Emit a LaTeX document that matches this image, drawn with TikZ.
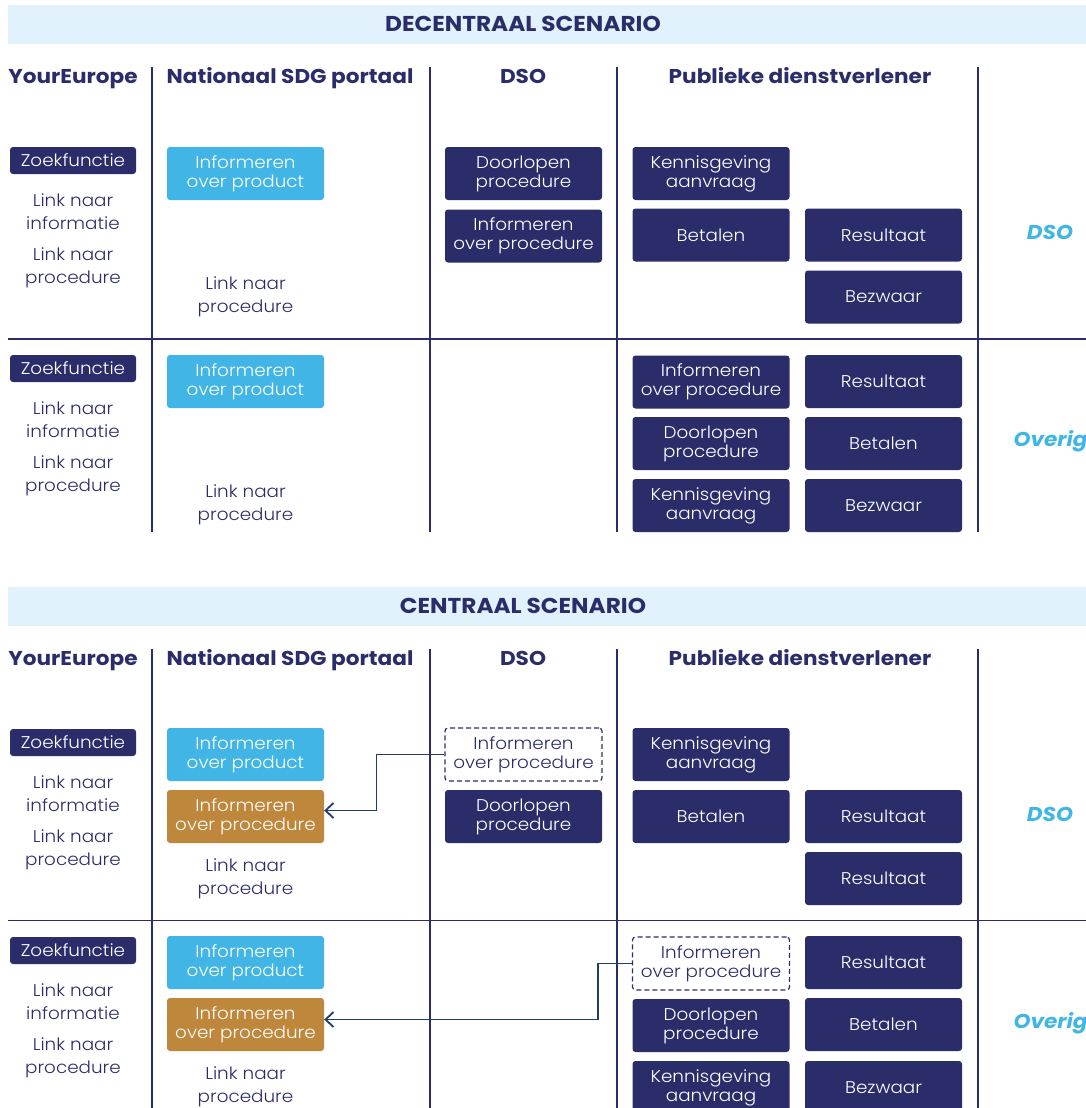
\documentclass[tikz,border=0pt]{standalone}
\usepackage{xcolor}
\usepackage{fontspec}
\setmainfont{Poppins}[FakeStretch=1.08, UprightFont=* Light, BoldFont=* Bold, BoldItalicFont=* Bold Italic]
\usepackage{tikz}
\usetikzlibrary{calc, positioning, arrows.meta}

\definecolor{navy}{HTML}{2B2D6B}
\definecolor{skyblue}{HTML}{41B6E6}
\definecolor{ochre}{HTML}{BF873B}
\definecolor{bandblue}{HTML}{E1F2FC}
\definecolor{arrowblue}{HTML}{1F3D6E}

\begin{document}
\begin{tikzpicture}[x=1pt, y=-1pt, >={Straight Barb[length=8pt, width=15pt]},
		box/.style={rounded corners=3pt, minimum width=157pt, minimum height=53pt, inner sep=0pt, align=center, text=white, font=\fontsize{17}{19}\selectfont},
		dsobox/.style={box, fill=navy},
		sdgbox/.style={box, fill=skyblue},
		movedbox/.style={box, fill=ochre},
		ghostbox/.style={box, fill=white, draw=navy, dash pattern=on 5pt off 3pt, line width=1.2pt, text=navy},
		zoekbox/.style={rounded corners=3pt, fill=navy, text=white, minimum width=126pt, minimum height=27pt, inner sep=0pt, font=\fontsize{17}{19}\selectfont},
		linktext/.style={text=navy, align=center, font=\fontsize{17}{23}\selectfont},
		colhead/.style={text=navy, anchor=base, font=\bfseries\fontsize{20}{24}\selectfont},
		rowlabel/.style={text=skyblue, font=\bfseries\itshape\fontsize{20}{24}\selectfont},
		gridline/.style={navy, line width=1.8pt}]

		\clip (0,0) rectangle (1086,1108);

		% kopjes en rasters van beide scenario's
		\foreach \off/\titel [count=\i] in {0/DECENTRAAL SCENARIO, 581.5/CENTRAAL SCENARIO} {
			\fill[bandblue] (8,5+\off) rectangle (1086,44+\off);
			\node[colhead, font=\bfseries\fontsize{21.5}{24}\selectfont] (T\i) at (523,31.5+\off) {\titel};
			\node[colhead] (hYE\i) at (73,84+\off) {YourEurope};
			\node[colhead] (hSDG\i) at (290,84+\off) {Nationaal SDG portaal};
			\node[colhead] (hDSO\i) at (523,84+\off) {DSO};
			\node[colhead] (hPD\i) at (800,84+\off) {Publieke dienstverlener};
			\foreach \x in {152, 430, 617, 978}
				\draw[gridline] (\x,67+\off) -- (\x,532+\off);
			\draw[gridline] (8,339+\off) -- (1086,339+\off);
		}
		\draw[gridline] (152,1000) -- (152,1108) (430,1000) -- (430,1108) (617,1000) -- (617,1108) (978,1000) -- (978,1108);

		% decentraal, DSO
		\node[zoekbox] (Z1) at (73,160.5) {Zoekfunctie};
		\node[linktext] (LI1) at (73,211.5) {Link naar\\informatie};
		\node[linktext] (LP1) at (73,267.5) {Link naar\\procedure};
		\node[sdgbox] (P1) at (245.5,173.5) {Informeren\\over product};
		\node[linktext] (LS1) at (245.5,297) {Link naar\\procedure};
		\node[dsobox] (D1) at (523.5,173.5) {Doorlopen\\procedure};
		\node[dsobox] (IP1) at (523.5,236) {Informeren\\over procedure};
		\node[dsobox] (K1) at (711,173.5) {Kennisgeving\\aanvraag};
		\node[dsobox] (B1) at (711,235) {Betalen};
		\node[dsobox] (R1) at (883.5,235) {Resultaat};
		\node[dsobox] (BZ1) at (883.5,297) {Bezwaar};
		\node[rowlabel] (L1) at (1050,232) {DSO};

		% decentraal, overig
		\node[zoekbox] (Z2) at (73,368.5) {Zoekfunctie};
		\node[linktext] (LI2) at (73,419.5) {Link naar\\informatie};
		\node[linktext] (LP2) at (73,475.5) {Link naar\\procedure};
		\node[sdgbox] (P2) at (245.5,381.5) {Informeren\\over product};
		\node[linktext] (LS2) at (245.5,504.5) {Link naar\\procedure};
		\node[dsobox] (IP2) at (711,382) {Informeren\\over procedure};
		\node[dsobox] (D2) at (711,443.5) {Doorlopen\\procedure};
		\node[dsobox] (K2) at (711,505.5) {Kennisgeving\\aanvraag};
		\node[dsobox] (R2) at (883.5,381.5) {Resultaat};
		\node[dsobox] (B2) at (883.5,443.5) {Betalen};
		\node[dsobox] (BZ2) at (883.5,505.5) {Bezwaar};
		\node[rowlabel, anchor=west] (L2) at (1010,441) {Overig};

		% centraal, DSO
		\node[zoekbox] (Z3) at (73,742.5) {Zoekfunctie};
		\node[linktext] (LI3) at (73,793.5) {Link naar\\informatie};
		\node[linktext] (LP3) at (73,849.5) {Link naar\\procedure};
		\node[sdgbox] (P3) at (245.5,754.5) {Informeren\\over product};
		\node[movedbox] (M3) at (245.5,816.5) {Informeren\\over procedure};
		\node[linktext] (LS3) at (245.5,878.5) {Link naar\\procedure};
		\node[ghostbox] (G3) at (523.5,754.5) {Informeren\\over procedure};
		\node[dsobox] (D3) at (523.5,816.5) {Doorlopen\\procedure};
		\node[dsobox] (K3) at (711,754.5) {Kennisgeving\\aanvraag};
		\node[dsobox] (B3) at (711,816.5) {Betalen};
		\node[dsobox] (R3) at (883.5,816.5) {Resultaat};
		\node[dsobox] (R3b) at (883.5,878.5) {Resultaat};
		\node[rowlabel] (L3) at (1050,814) {DSO};

		% centraal, overig
		\node[zoekbox] (Z4) at (73,950.5) {Zoekfunctie};
		\node[linktext] (LI4) at (73,1001.5) {Link naar\\informatie};
		\node[linktext] (LP4) at (73,1057.5) {Link naar\\procedure};
		\node[sdgbox] (P4) at (245.5,962.5) {Informeren\\over product};
		\node[movedbox] (M4) at (245.5,1024.5) {Informeren\\over procedure};
		\node[linktext] (LS4) at (245.5,1086.5) {Link naar\\procedure};
		\node[ghostbox] (G4) at (711,963.5) {Informeren\\over procedure};
		\node[dsobox] (D4) at (711,1025.5) {Doorlopen\\procedure};
		\node[dsobox] (K4) at (711,1087.5) {Kennisgeving\\aanvraag};
		\node[dsobox] (R4) at (883.5,962.5) {Resultaat};
		\node[dsobox] (B4) at (883.5,1024.5) {Betalen};
		\node[dsobox] (BZ4) at (883.5,1087.5) {Bezwaar};
		\node[rowlabel, anchor=west] (L4) at (1010,1023) {Overig};

		\draw[->, arrowblue, line width=1.8pt]
		(G3.west) -- ++(-68,0) |- ([yshift=6pt]M3.east);

		\draw[->, arrowblue, line width=1.8pt]
		(G4.west) -- ++(-34,0) |- ([yshift=5pt]M4.east);

	\end{tikzpicture}
\end{document}
